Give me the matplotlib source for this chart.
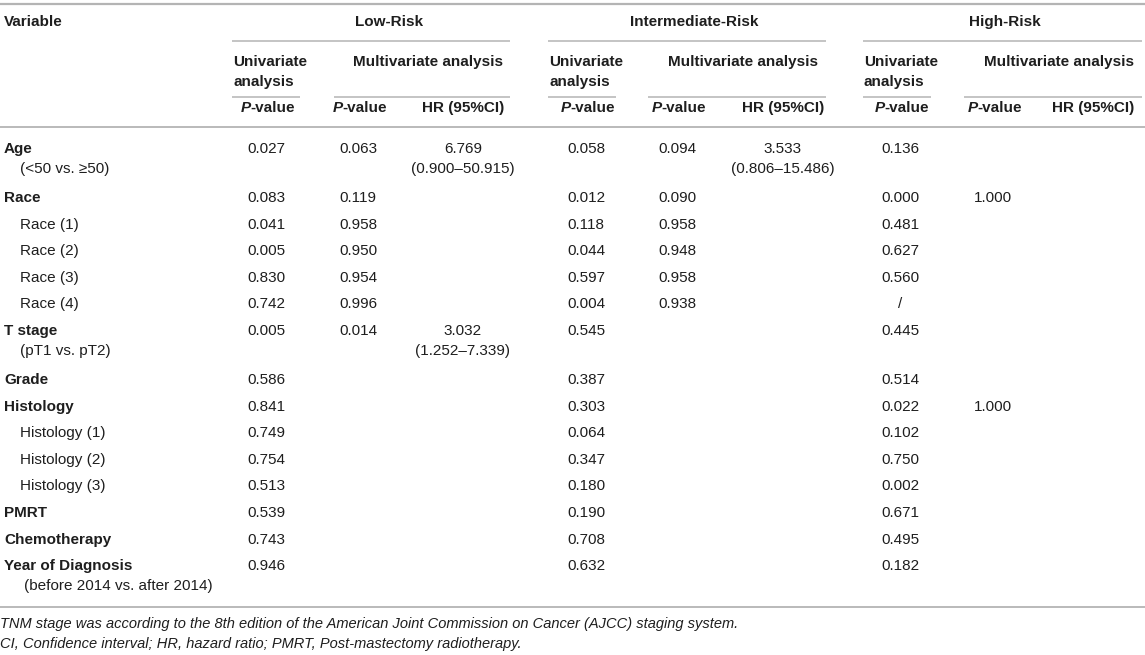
import matplotlib
matplotlib.use("Agg")
import matplotlib.pyplot as plt

plt.rcParams.update({
    "font.family": ["Liberation Sans", "DejaVu Sans"],
    "font.size": 11,
    "text.color": "#1e1e1e",
})

# ---- table content ---------------------------------------------------------
variables = ["Age", "Race", "Race (1)", "Race (2)", "Race (3)", "Race (4)",
             "T stage", "Grade", "Histology", "Histology (1)", "Histology (2)",
             "Histology (3)", "PMRT", "Chemotherapy", "Year of Diagnosis"]
sublabels = ["(<50 vs. ≥50)", "", "", "", "", "", "(pT1 vs. pT2)", "", "",
             "", "", "", "", "", "(before 2014 vs. after 2014)"]
is_main = [True, True, False, False, False, False, True, True, True,
           False, False, False, True, True, True]

low_uni = ["0.027", "0.083", "0.041", "0.005", "0.830", "0.742", "0.005",
           "0.586", "0.841", "0.749", "0.754", "0.513", "0.539", "0.743", "0.946"]
low_multi_p = ["0.063", "0.119", "0.958", "0.950", "0.954", "0.996", "0.014",
               "", "", "", "", "", "", "", ""]
low_hr = ["6.769\n(0.900–50.915)", "", "", "", "", "", "3.032\n(1.252–7.339)",
          "", "", "", "", "", "", "", ""]

int_uni = ["0.058", "0.012", "0.118", "0.044", "0.597", "0.004", "0.545",
           "0.387", "0.303", "0.064", "0.347", "0.180", "0.190", "0.708", "0.632"]
int_multi_p = ["0.094", "0.090", "0.958", "0.948", "0.958", "0.938", "",
               "", "", "", "", "", "", "", ""]
int_hr = ["3.533\n(0.806–15.486)", "", "", "", "", "", "", "", "", "", "",
          "", "", "", ""]

high_uni = ["0.136", "0.000", "0.481", "0.627", "0.560", "/", "0.445",
            "0.514", "0.022", "0.102", "0.750", "0.002", "0.671", "0.495", "0.182"]
high_multi_p = ["", "1.000", "", "", "", "", "", "", "1.000", "", "", "", "",
                "", ""]
high_hr = [""] * 15

groups = ["Low-Risk", "Intermediate-Risk", "High-Risk"]
footnotes = [
    "TNM stage was according to the 8th edition of the American Joint "
    "Commission on Cancer (AJCC) staging system.",
    "CI, Confidence interval; HR, hazard ratio; PMRT, Post-mastectomy radiotherapy.",
]

# ---- layout (pixel coordinates) -------------------------------------------
W, H = 1145, 655
RULE = "#b4b4b4"

group_span = [(232, 510), (548, 826), (863, 1142)]
group_x = [389, 694, 1005]
uni_x = [266, 586, 900]
multi_p_x = [358, 677, 993]
hr_x = [463, 783, 1093]
uni_line_len = 68
multi_line_start = [334, 648, 964]

columns = [
    (uni_x[0], low_uni), (multi_p_x[0], low_multi_p), (hr_x[0], low_hr),
    (uni_x[1], int_uni), (multi_p_x[1], int_multi_p), (hr_x[1], int_hr),
    (uni_x[2], high_uni), (multi_p_x[2], high_multi_p), (hr_x[2], high_hr),
]

fig = plt.figure(figsize=(W / 100, H / 100), dpi=100)
ax = fig.add_axes([0, 0, 1, 1])
ax.set_xlim(0, W)
ax.set_ylim(H, 0)
ax.axis("off")


def hline(y, x0, x1, lw=1.1):
    ax.plot([x0, x1], [y, y], color=RULE, lw=lw, solid_capstyle="butt")


# rules
hline(4, 0, W, lw=1.6)
hline(127, 0, W, lw=1.3)
hline(607, 0, W, lw=1.3)

# header
ax.text(4, 22, "Variable", ha="left", va="center", fontweight="bold")
for i, g in enumerate(groups):
    x0, x1 = group_span[i]
    ax.text(group_x[i], 22, g, ha="center", va="center", fontweight="bold")
    hline(41, x0, x1)
    ax.text(x0 + 1, 62, "Univariate", ha="left", va="center", fontweight="bold")
    ax.text(x0 + 1, 82, "analysis", ha="left", va="center", fontweight="bold")
    hline(97, x0, x0 + uni_line_len)
    ax.text((multi_line_start[i] + x1) / 2 + 6, 62, "Multivariate analysis",
            ha="center", va="center", fontweight="bold")
    hline(97, multi_line_start[i], x1)
    for xc in (uni_x[i], multi_p_x[i]):
        ax.text(xc - 15, 108, "P", ha="right", va="center",
                fontweight="bold", fontstyle="italic")
        ax.text(xc - 16, 108, "-value", ha="left", va="center",
                fontweight="bold")
    ax.text(hr_x[i], 108, "HR (95%CI)", ha="center", va="center",
            fontweight="bold")

# body rows
ROW1 = 26.6
ROW2 = 49
SUB = 20
y = 149
row_y = []
for i in range(len(variables)):
    row_y.append(y)
    two = bool(sublabels[i]) or any("\n" in c[1][i] for c in columns)
    y += ROW2 if two else ROW1

for i, name in enumerate(variables):
    yy = row_y[i]
    if is_main[i]:
        ax.text(4, yy, name, ha="left", va="center", fontweight="bold")
    else:
        ax.text(20, yy, name, ha="left", va="center")
    if sublabels[i]:
        sx = 24 if i == len(variables) - 1 else 20
        ax.text(sx, yy + SUB, sublabels[i], ha="left", va="center")
    for xc, vals in columns:
        v = vals[i]
        if not v:
            continue
        for k, line in enumerate(v.split("\n")):
            ax.text(xc, yy + k * SUB, line, ha="center", va="center")

# footnotes
for k, note in enumerate(footnotes):
    ax.text(0, 624 + k * 20, note, ha="left", va="center",
            fontstyle="italic", fontsize=10.5)

fig.savefig("out.png", dpi=100)
